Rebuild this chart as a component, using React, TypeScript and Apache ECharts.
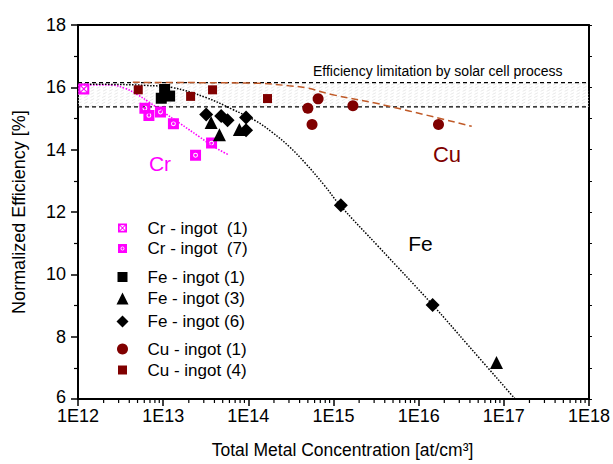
import React, { useEffect, useRef } from "react";
import * as echarts from "echarts";

// ---- data (concentration [at/cm3], normalized efficiency [%]) ----
const xMinExp = 12;
const xMaxExp = 18;
const yMin = 6;
const yMax = 18;
const limitBand = [15.37, 16.15]; // efficiency limitation by solar cell process

const crIngot1 = [[1.17e12, 15.95]];
const crIngot7 = [
  [6.1e12, 15.33],
  [6.8e12, 15.1],
  [9.3e12, 15.21],
  [1.32e13, 14.83],
  [2.4e13, 13.82],
  [3.7e13, 14.21],
];
const feIngot1 = [
  [1.04e13, 15.93],
  [1.19e13, 15.72],
  [9.5e12, 15.65],
];
const feIngot3 = [
  [3.66e13, 14.87],
  [4.58e13, 14.48],
  [7.85e13, 14.65],
  [8.2e16, 7.17],
];
const feIngot6 = [
  [3.2e13, 15.13],
  [4.8e13, 15.08],
  [5.7e13, 14.94],
  [9.4e13, 15.03],
  [9.4e13, 14.62],
  [1.22e15, 12.22],
  [1.46e16, 9.02],
];
const cuIngot1 = [
  [6.6e14, 15.63],
  [5.0e14, 15.33],
  [1.69e15, 15.41],
  [5.6e14, 14.81],
  [1.71e16, 14.81],
];
const cuIngot4 = [
  [5.1e12, 15.92],
  [2.1e13, 15.71],
  [3.8e13, 15.92],
  [1.68e14, 15.64],
];

// fitted trend curves
const crFit = [
  [1e12, 16.08],
  [1.81e12, 16.08],
  [2.56e12, 16.07],
  [3.55e12, 15.97],
  [4.9e12, 15.78],
  [6.95e12, 15.51],
  [1.04e13, 15.18],
  [1.56e13, 14.85],
  [2.67e13, 14.41],
  [4.0e13, 14.08],
  [5.83e13, 13.84],
];
const feFit = [
  [1e12, 16.1],
  [3.16e12, 16.09],
  [6.3e12, 16.06],
  [1.3e13, 15.99],
  [3.2e13, 15.67],
  [6.55e13, 15.29],
  [1.23e14, 14.92],
  [1.92e14, 14.55],
  [3.02e14, 14.1],
  [4.73e14, 13.55],
  [7.74e14, 12.87],
  [1.19e15, 12.22],
  [3.4e15, 10.88],
  [1.46e16, 9.02],
  [3.85e16, 7.71],
  [1.36e17, 6.0],
];
const cuFit = [
  [4.4e12, 16.16],
  [2.7e13, 16.15],
  [1.35e14, 16.13],
  [3.0e14, 16.05],
  [4.7e14, 15.99],
  [9.5e14, 15.77],
  [3.4e15, 15.47],
  [4.2e16, 14.75],
];

const seriesNames = [
  "Cr - ingot \u00a0(1)",
  "Cr - ingot \u00a0(7)",
  "Fe - ingot (1)",
  "Fe - ingot (3)",
  "Fe - ingot (6)",
  "Cu - ingot (1)",
  "Cu - ingot (4)",
];

const FONT = 'Arial, "Liberation Sans", sans-serif';
const MAGENTA = "#ff00ff";
const CU_DARK = "#800000";
const CU_LINE = "#c05a28";

// symbols: square with X-shaped cut pattern, square with ring pattern
const crossSquare =
  "path://M0,0L10,0L10,10L0,10Z M2.6,1.9L5,4.3L7.4,1.9Z M8.1,2.6L5.7,5L8.1,7.4Z M7.4,8.1L5,5.7L2.6,8.1Z M1.9,7.4L4.3,5L1.9,2.6Z";
const ringSquare =
  "path://M0,0L10,0L10,10L0,10Z M5,2.8A2.2,2.2 0 1,0 5,7.2A2.2,2.2 0 1,0 5,2.8Z M5,3.7A1.3,1.3 0 1,1 5,6.3A1.3,1.3 0 1,1 5,3.7Z";

export default function App() {
  const ref = useRef<HTMLDivElement>(null);

  useEffect(() => {
    if (!ref.current) return;
    const chart = echarts.init(ref.current, null, { renderer: "svg" });

    const minorTicks: number[][] = [];
    for (let e = xMinExp; e < xMaxExp; e++) {
      for (let m = 2; m <= 9; m++) minorTicks.push([m * Math.pow(10, e), yMin]);
    }

    const legendRows = [
      { name: seriesNames[0], y: 228, w: 9 },
      { name: seriesNames[1], y: 248.5, w: 9 },
      { name: seriesNames[2], y: 277, w: 10 },
      { name: seriesNames[3], y: 298.5, w: 12 },
      { name: seriesNames[4], y: 321.5, w: 12 },
      { name: seriesNames[5], y: 349, w: 11 },
      { name: seriesNames[6], y: 370, w: 9 },
    ];
    const iconCx = 122.5;
    const textX = 147.5;

    const legends = legendRows.map((r) => ({
      data: [r.name],
      left: iconCx - r.w / 2,
      top: r.y - 10,
      padding: 0,
      itemWidth: r.w,
      itemHeight: r.w,
      selectedMode: false,
      textStyle: {
        fontFamily: FONT,
        fontSize: 17,
        color: "#000",
        padding: [0, 0, 0, textX - (iconCx + r.w / 2 + 5)],
        height: 20,
        lineHeight: 20,
      },
    }));

    const scatter = (name: string, data: number[][], symbol: string, size: number, color: string) => ({
      name,
      type: "scatter",
      data,
      symbol,
      symbolSize: size,
      itemStyle: { color, opacity: 1 },
      z: 5,
    });

    const option: any = {
      animation: false,
      grid: { left: 78, right: 22, top: 25, bottom: 64, containLabel: false },
      legend: legends,
      xAxis: [
        {
          type: "log",
          logBase: 10,
          min: Math.pow(10, xMinExp),
          max: Math.pow(10, xMaxExp),
          axisLine: { lineStyle: { color: "#000", width: 2 } },
          axisTick: { length: 7, lineStyle: { color: "#000", width: 1.5 } },
          splitLine: { show: false },
          axisLabel: {
            color: "#000",
            fontFamily: FONT,
            fontSize: 18,
            margin: 9,
            lineHeight: 16,
            formatter: (v: number) => "1E" + Math.round(Math.log10(v)),
          },
          name: "Total Metal Concentration [at/cm\u00b3]",
          nameLocation: "middle",
          nameGap: 42,
          nameTextStyle: { color: "#000", fontFamily: FONT, fontSize: 17.5, padding: [0, 0, 0, 18] },
        },
        {
          type: "log",
          logBase: 10,
          position: "top",
          min: Math.pow(10, xMinExp),
          max: Math.pow(10, xMaxExp),
          axisLine: { lineStyle: { color: "#000", width: 2 } },
          axisTick: { show: false },
          axisLabel: { show: false },
          splitLine: { show: false },
        },
      ],
      yAxis: [
        {
          type: "value",
          min: yMin,
          max: yMax,
          interval: 2,
          axisLine: { show: true, lineStyle: { color: "#000", width: 2 } },
          axisTick: { show: true, length: 7, lineStyle: { color: "#000", width: 1.5 } },
          minorTick: { show: true, splitNumber: 2, length: 4, lineStyle: { color: "#000", width: 1.2 } },
          splitLine: { show: false },
          axisLabel: {
            color: "#000",
            fontFamily: FONT,
            fontSize: 18,
            margin: 12,
            lineHeight: 14,
            formatter: (v: number) => (v === yMin ? "{low|" + v + "}" : String(v)),
            rich: { low: { fontFamily: FONT, fontSize: 18, color: "#000", lineHeight: 14, padding: [0, 0, 4, 0] } },
          },
          name: "Normalized Efficiency [%]",
          nameLocation: "middle",
          nameGap: 50,
          nameRotate: 90,
          nameTextStyle: { color: "#000", fontFamily: FONT, fontSize: 18 },
        },
        {
          type: "value",
          position: "right",
          min: yMin,
          max: yMax,
          interval: 1,
          axisLine: { show: true, lineStyle: { color: "#000", width: 2 } },
          axisTick: { show: true, length: 3, lineStyle: { color: "#000", width: 1 } },
          axisLabel: { show: false },
          splitLine: { show: false },
        },
      ],
      graphic: [
        {
          type: "text",
          x: 313,
          y: 71,
          style: {
            text: "Efficiency limitation by solar cell process",
            font: `14px ${FONT}`,
            fill: "#000",
            align: "left",
            verticalAlign: "middle",
          },
          z: 20,
        },
        {
          type: "text",
          x: 160,
          y: 163,
          style: { text: "Cr", font: `21px ${FONT}`, fill: MAGENTA, align: "center", verticalAlign: "middle" },
          z: 20,
        },
        {
          type: "text",
          x: 420.5,
          y: 243,
          style: { text: "Fe", font: `21px ${FONT}`, fill: "#000", align: "center", verticalAlign: "middle" },
          z: 20,
        },
        {
          type: "text",
          x: 447,
          y: 154,
          style: { text: "Cu", font: `22px ${FONT}`, fill: CU_DARK, align: "center", verticalAlign: "middle" },
          z: 20,
        },
      ],
      series: [
        {
          type: "custom",
          name: "limitBand",
          silent: true,
          z: 1,
          data: [[Math.pow(10, xMinExp), limitBand[1], Math.pow(10, xMaxExp), limitBand[0]]],
          encode: { x: [0, 2], y: [1, 3] },
          renderItem: (params: any, api: any) => {
            const a = api.coord([api.value(0), api.value(1)]);
            const b = api.coord([api.value(2), api.value(3)]);
            const x0 = a[0], y0 = a[1], x1 = b[0], y1 = b[1];
            const h = y1 - y0;
            const children: any[] = [];
            const step = 6;
            const run = h * 2;
            for (let s = x0 - run; s < x1; s += step) {
              let xa = s, ya = y1, xb = s + run, yb = y0;
              if (xa < x0) { ya = y1 - ((x0 - xa) / run) * h; xa = x0; }
              if (xb > x1) { yb = y0 + ((xb - x1) / run) * h; xb = x1; }
              if (xb <= xa) continue;
              children.push({
                type: "line",
                shape: { x1: xa, y1: ya, x2: xb, y2: yb },
                style: { stroke: "#dedede", lineWidth: 0.7, lineDash: [4, 3] },
              });
            }
            return { type: "group", children };
          },
        },
        {
          type: "custom",
          name: "minorTicks",
          silent: true,
          data: minorTicks,
          encode: { x: 0, y: 1 },
          renderItem: (params: any, api: any) => {
            const p = api.coord([api.value(0), api.value(1)]);
            return {
              type: "line",
              shape: { x1: p[0], y1: p[1], x2: p[0], y2: p[1] + 4 },
              style: { stroke: "#000", lineWidth: 1.2 },
            };
          },
        },
        ...limitBand.map((v) => ({
          type: "line",
          name: "limit" + v,
          silent: true,
          symbol: "none",
          data: [
            [Math.pow(10, xMinExp), v],
            [Math.pow(10, xMaxExp), v],
          ],
          lineStyle: { color: "#000", width: 1.2, type: [4, 3] },
          z: 3,
        })),
        {
          type: "line",
          name: "crFit",
          data: crFit,
          smooth: 0.4,
          symbol: "none",
          silent: true,
          lineStyle: { color: MAGENTA, width: 1.6, type: [1.5, 1.5] },
          z: 3,
        },
        {
          type: "line",
          name: "feFit",
          data: feFit,
          smooth: 0.4,
          symbol: "none",
          silent: true,
          lineStyle: { color: "#000", width: 1.5, type: [1.5, 1.5] },
          z: 3,
        },
        {
          type: "line",
          name: "cuFit",
          data: cuFit,
          smooth: 0.4,
          symbol: "none",
          silent: true,
          lineStyle: { color: CU_LINE, width: 1.5, type: [7, 4] },
          z: 3,
        },
        scatter(seriesNames[0], crIngot1, crossSquare, 11, MAGENTA),
        scatter(seriesNames[1], crIngot7, ringSquare, 11, MAGENTA),
        scatter(seriesNames[2], feIngot1, "rect", 11, "#000"),
        scatter(seriesNames[3], feIngot3, "triangle", 13, "#000"),
        scatter(seriesNames[4], feIngot6, "diamond", 14, "#000"),
        scatter(seriesNames[5], cuIngot1, "circle", 11, CU_DARK),
        scatter(seriesNames[6], cuIngot4, "rect", 9, CU_DARK),
      ],
    };

    chart.setOption(option);
    return () => chart.dispose();
  }, []);

  return (
    <div
      ref={ref}
      style={{ position: "fixed", left: 0, top: 0, width: 613, height: 464, background: "#fff" }}
    />
  );
}
